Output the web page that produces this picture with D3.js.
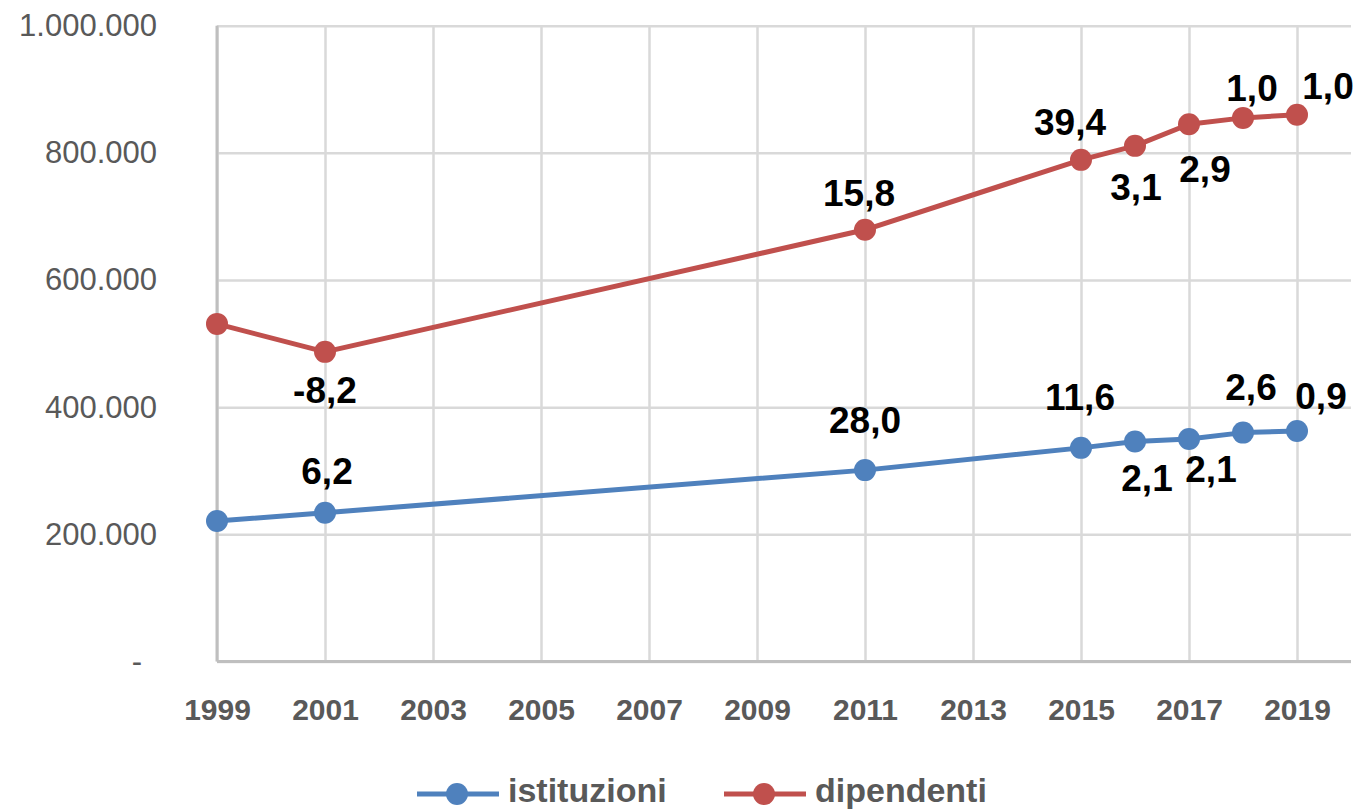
<!DOCTYPE html>
<html>
<head>
<meta charset="utf-8">
<script src="https://cdn.jsdelivr.net/npm/d3@7"></script>
<style>
  body { margin: 0; background: #fff; }
  svg { display: block; font-family: "Liberation Sans", Arial, sans-serif; }
</style>
</head>
<body>
<svg id="chart" width="1358" height="811"></svg>
<script>
// ========= Data
const years = [1999, 2001, 2011, 2015, 2016, 2017, 2018, 2019];
const istituzioni = [221000, 234000, 301000, 336000, 346000, 350000, 360000, 362500];
const dipendenti = [531000, 487000, 679000, 789000, 811000, 845000, 855000, 860000];
const istituzioniLabels = [null, "6,2", "28,0", "11,6", "2,1", "2,1", "2,6", "0,9"];
const dipendentiLabels = [null, "-8,2", "15,8", "39,4", "3,1", "2,9", "1,0", "1,0"];
const yearTicks = [1999, 2001, 2003, 2005, 2007, 2009, 2011, 2013, 2015, 2017, 2019];
const valueTicks = [0, 200000, 400000, 600000, 800000, 1000000];

// label offsets (px from the marker centre)
const blueOffsets = [null, [2, -42], [0, -50], [-1, -51], [12, 36], [22, 30], [8, -46], [24, -35]];
const redOffsets = [null, [0, 38], [-6, -37], [-11, -38], [1, 41], [16, 44], [9, -30], [31, -29]];

const svg = d3.select("#chart");
const m = { l: 217, r: 1351, t: 25.7, b: 661.5 };

const x = d3.scaleLinear().domain([1999, 2020]).range([m.l, m.r]);
const y = d3.scaleLinear().domain([0, 1000000]).range([m.b, m.t]);

const fmt = v => v === 0 ? "-" : d3.format(",")(v).replace(/,/g, ".");

// ========= Grid + axes
const gx = svg.append("g")
    .attr("transform", `translate(0,${m.b})`)
    .call(d3.axisBottom(x).tickValues(yearTicks).tickSize(-(m.b - m.t)).tickFormat(d3.format("d")));
gx.select(".domain").remove();
gx.selectAll("line").attr("stroke", "#d9d9d9").attr("stroke-width", 2.5);
gx.selectAll("text")
    .attr("y", 48)
    .attr("dy", "0.35em")
    .attr("fill", "#595959")
    .attr("font-size", 30)
    .attr("font-weight", "bold")
    .attr("font-family", "Liberation Sans, Arial, sans-serif");

const gy = svg.append("g")
    .attr("transform", `translate(${m.l},0)`)
    .call(d3.axisLeft(y).tickValues(valueTicks).tickSize(-(m.r - m.l)).tickFormat(fmt));
gy.select(".domain").remove();
gy.selectAll("line").attr("stroke", "#d9d9d9").attr("stroke-width", 2.5);
gy.selectAll("text")
    .attr("x", -60)
    .attr("dx", d => d === 0 ? -15 : 0)
    .attr("fill", "#595959")
    .attr("font-size", 31)
    .attr("font-family", "Liberation Sans, Arial, sans-serif");

// axis lines
svg.append("line")
    .attr("x1", m.l).attr("x2", m.l).attr("y1", m.t).attr("y2", m.b)
    .attr("stroke", "#bfbfbf").attr("stroke-width", 3);
svg.append("line")
    .attr("x1", m.l).attr("x2", m.r).attr("y1", m.b).attr("y2", m.b)
    .attr("stroke", "#bfbfbf").attr("stroke-width", 3);

// ========= Series
const series = [
    { name: "istituzioni", values: istituzioni, labels: istituzioniLabels, offsets: blueOffsets, color: "#4f81bd" },
    { name: "dipendenti", values: dipendenti, labels: dipendentiLabels, offsets: redOffsets, color: "#c0504d" },
];

const line = d3.line()
    .x(d => x(d.year))
    .y(d => y(d.value));

series.forEach(s => {
    const pts = years.map((yr, i) => ({ year: yr, value: s.values[i], label: s.labels[i], off: s.offsets[i] }));

    svg.append("path")
        .datum(pts)
        .attr("fill", "none")
        .attr("stroke", s.color)
        .attr("stroke-width", 5)
        .attr("stroke-linejoin", "round")
        .attr("d", line);

    svg.selectAll(null)
        .data(pts)
        .enter()
        .append("circle")
        .attr("cx", d => x(d.year))
        .attr("cy", d => y(d.value))
        .attr("r", 11)
        .attr("fill", s.color);

    svg.selectAll(null)
        .data(pts.filter(d => d.label))
        .enter()
        .append("text")
        .attr("x", d => x(d.year) + d.off[0])
        .attr("y", d => y(d.value) + d.off[1])
        .attr("dy", "0.36em")
        .attr("text-anchor", "middle")
        .attr("font-size", 37)
        .attr("font-weight", "bold")
        .attr("fill", "#000")
        .text(d => d.label);
});

// ========= Legend
const legendY = 790;
const legend = [
    { name: "istituzioni", color: "#4f81bd", x0: 417 },
    { name: "dipendenti", color: "#c0504d", x0: 724 },
];
legend.forEach(l => {
    svg.append("line")
        .attr("x1", l.x0).attr("x2", l.x0 + 82)
        .attr("y1", legendY + 4).attr("y2", legendY + 4)
        .attr("stroke", l.color).attr("stroke-width", 5);
    svg.append("circle")
        .attr("cx", l.x0 + 40).attr("cy", legendY + 4).attr("r", 11)
        .attr("fill", l.color);
    svg.append("text")
        .attr("x", l.x0 + 91)
        .attr("y", legendY)
        .attr("dy", "0.36em")
        .attr("font-size", 34)
        .attr("font-weight", "bold")
        .attr("fill", "#595959")
        .text(l.name);
});
</script>
</body>
</html>
